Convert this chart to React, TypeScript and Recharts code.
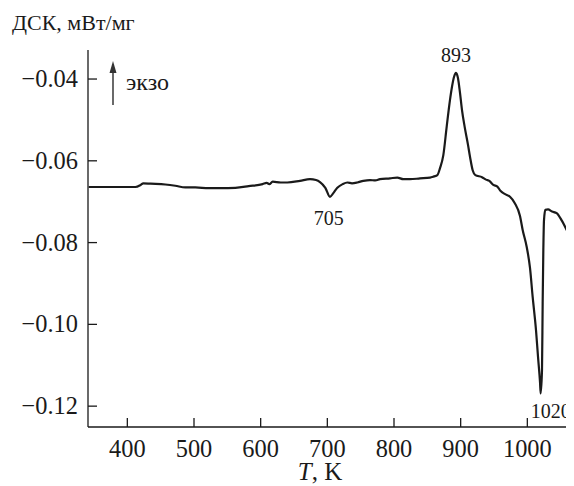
import { Line, LineChart, ReferenceDot, XAxis, YAxis } from "recharts";

const temps = [
  342, 412, 420, 424, 435, 457, 472, 487, 502, 522, 540, 562, 582, 603, 609, 613, 618, 630, 640, 659,
  674, 683, 689, 697, 704, 709, 715, 723, 730, 737, 745, 754, 764, 772, 779, 794, 805, 814, 824, 839,
  854, 860, 865, 869, 874, 879, 884, 887, 890, 893, 896, 899, 902, 906, 911, 914, 918, 922, 932, 938,
  943, 949, 955, 960, 966, 974, 981, 989, 993, 999, 1004, 1008, 1013, 1016, 1019, 1020, 1022, 1023, 1024, 1025,
  1027, 1031, 1037, 1044, 1052, 1059, 1064, 1070,
];
const dsc = [
  -0.0664, -0.0664, -0.0659, -0.0655, -0.0656, -0.0658, -0.0661, -0.0665, -0.0665, -0.0667, -0.0667, -0.0666, -0.0662, -0.0657, -0.0654, -0.0657, -0.0651, -0.0653, -0.0653, -0.0649,
  -0.0645, -0.0647, -0.0652, -0.0666, -0.0688, -0.0679, -0.0666, -0.0657, -0.0653, -0.0655, -0.0653, -0.0649, -0.0647, -0.0648, -0.0645, -0.0643, -0.0641, -0.0645, -0.0645, -0.0643,
  -0.0641, -0.0638, -0.0635, -0.0618, -0.0586, -0.0517, -0.0451, -0.0419, -0.0395, -0.0385, -0.0398, -0.0434, -0.0476, -0.0517, -0.0561, -0.059, -0.0623, -0.0635, -0.064, -0.0646,
  -0.0649, -0.0659, -0.0663, -0.0674, -0.0681, -0.0688, -0.0703, -0.0735, -0.0769, -0.081, -0.0862, -0.0933, -0.1014, -0.1079, -0.1141, -0.1169, -0.1112, -0.0948, -0.0818, -0.0745,
  -0.072, -0.0719, -0.0724, -0.0728, -0.0747, -0.0769, -0.0784, -0.0799,
];
const xTicks = [400, 500, 600, 700, 800, 900, 1000];
const yTicks = [-0.12, -0.1, -0.08, -0.06, -0.04];
const peaks = [
  { t: 893, v: -0.0385, text: "893", dx: 0, dy: -11 },
  { t: 705, v: -0.0688, text: "705", dx: -2, dy: 28 },
  { t: 1020, v: -0.1169, text: "1020", dx: 10, dy: 25 },
];

const data = temps.map((t, i) => ({ t, v: dsc[i] }));

const serif = "Liberation Serif";
const ink = "#1a1a1a";
// tick numbers: drawn at 20px and scaled up, large digit sizes picked a sans face here
const tickScale = 1.22;

function YTick({ x, y, payload }: any) {
  const label = payload.value.toFixed(2).replace("-", "\u2212");
  return (
    <g>
      <line x1={x} x2={x + 9} y1={y} y2={y} stroke={ink} strokeWidth={1.3} />
      <text transform={`translate(${x - 10},${y + 8}) scale(${tickScale})`} textAnchor="end" fontSize={20} fontFamily={serif} fill={ink}>{label}</text>
    </g>
  );
}

function XTick({ x, y, payload }: any) {
  return (
    <g>
      <line x1={x} x2={x} y1={y} y2={y - 9} stroke={ink} strokeWidth={1.3} />
      <text transform={`translate(${x},${y + 30}) scale(${tickScale})`} textAnchor="middle" fontSize={20} fontFamily={serif} fill={ink}>{payload.value}</text>
    </g>
  );
}

const peakLabel = (text: string, dx: number, dy: number) => ({ viewBox }: any) => (
  <text x={viewBox.x + dx} y={viewBox.y + dy} textAnchor="middle" fontSize={20} fontFamily={serif} fill={ink}>{text}</text>
);

export default function App() {
  return (
    <div style={{ position: "relative", width: 566, height: 478 }}>
      <LineChart width={566} height={478} data={data} margin={{ top: 42, right: 0, bottom: 0, left: 0 }}>
        <XAxis dataKey="t" type="number" domain={[341, 1070]} ticks={xTicks} allowDataOverflow height={59}
          stroke={ink} strokeWidth={1.3} tickLine={false} tickSize={0} tickMargin={0} tick={<XTick />} />
        <YAxis type="number" domain={[-0.1251, -0.0329]} ticks={yTicks} allowDataOverflow width={80}
          stroke={ink} strokeWidth={1.3} tickLine={false} tickSize={0} tickMargin={0} tick={<YTick />} />
        <Line type="monotone" dataKey="v" stroke={ink} strokeWidth={2.2} dot={false} isAnimationActive={false} />
        {peaks.map((p) => (
          <ReferenceDot key={p.text} x={p.t} y={p.v} r={0} stroke="none" fill="none" label={peakLabel(p.text, p.dx, p.dy)} />
        ))}
      </LineChart>
      <svg width={566} height={478} style={{ position: "absolute", left: 0, top: 0, pointerEvents: "none" }}>
        <text x={4} y={22} fontSize={22} fontFamily={serif} fill={ink}>ДСК, мВт/мг</text>
        <line x1={105} x2={105} y1={97} y2={62} stroke="#444" strokeWidth={1.6} />
        <polygon points="105,53 101.5,65 108.5,65" fill="#333" />
        <text x={118} y={82} fontSize={24} fontFamily={serif} fill={ink}>экзо</text>
        <text x={312} y={472} textAnchor="middle" fontSize={25} fontFamily={serif} fill={ink}>
          <tspan fontStyle="italic">T</tspan>, K
        </text>
      </svg>
    </div>
  );
}
